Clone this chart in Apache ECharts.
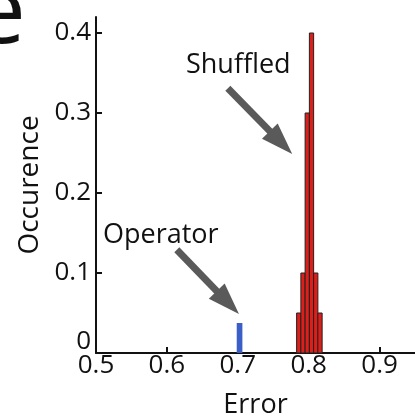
<!DOCTYPE html>
<html>
<head>
<meta charset="utf-8">
<script src="https://cdn.jsdelivr.net/npm/echarts@6/dist/echarts.min.js"></script>
<style>
  html, body { margin: 0; padding: 0; background: #fff; }
  #chart { width: 415px; height: 419px; }
</style>
</head>
<body>
<div id="chart"></div>
<script>
// 直方图数据: [起点, 终点, 频率]
var shuffledBins = [
    [0.783, 0.789, 0.05],
    [0.789, 0.795, 0.10],
    [0.795, 0.801, 0.30],
    [0.801, 0.807, 0.40],
    [0.807, 0.813, 0.10],
    [0.813, 0.819, 0.05]
];
var operatorBins = [
    [0.6985, 0.7065, 0.0375]
];
var xTicks = [0.5, 0.6, 0.7, 0.8, 0.9];
var yTicks = [0, 0.1, 0.2, 0.3, 0.4];

var font = '"Open Sans", "Noto Sans", sans-serif';

// 画矩形柱
var renderBin = function(color, stroke){
    return function(params, api){
        var p0 = api.coord([api.value(0), api.value(2)]);
        var p1 = api.coord([api.value(1), 0]);
        return {
            type: 'rect',
            shape: { x: p0[0], y: p0[1], width: p1[0] - p0[0], height: p1[1] - p0[1] },
            style: { fill: color, stroke: stroke, lineWidth: 1 }
        };
    };
};

var chart = echarts.init(document.getElementById('chart'));
var option = {
    animation: false,
    grid: { left: 96, right: 0, top: 17, bottom: 66, containLabel: false, outerBoundsMode: 'none' },
    xAxis: {
        type: 'value',
        min: 0.5, max: 0.95, interval: 0.1,
        name: 'Error', nameLocation: 'middle', nameGap: 39,
        nameTextStyle: { fontFamily: font, fontSize: 27, color: '#111' },
        axisLine: { show: true, lineStyle: { color: '#111', width: 2 } },
        axisTick: { show: true, inside: true, length: 6, lineStyle: { color: '#111', width: 2 } },
        axisLabel: {
            fontFamily: font, fontSize: 26, color: '#111', margin: 0, showMaxLabel: false,
            formatter: function(v){ return xTicks.indexOf(+v.toFixed(1)) >= 0 ? v.toFixed(1) : ''; }
        },
        splitLine: { show: false }
    },
    yAxis: {
        type: 'value',
        min: 0, max: 0.42, interval: 0.1,
        name: 'Occurence', nameLocation: 'middle', nameGap: 50,
        nameTextStyle: { fontFamily: font, fontSize: 28, color: '#111' },
        axisLine: { show: true, lineStyle: { color: '#111', width: 2 } },
        axisTick: { show: true, inside: true, length: 6, lineStyle: { color: '#111', width: 2 } },
        axisLabel: {
            fontFamily: font, fontSize: 26, color: '#111', margin: 5, showMaxLabel: false,
            formatter: function(v){ return v === 0 ? '{z|0}' : v.toFixed(1); },
            rich: { z: { fontFamily: font, fontSize: 26, color: '#111', padding: [0, 0, 22, 0] } }
        },
        splitLine: { show: false }
    },
    graphic: [
        { type: 'text', left: -28, top: -32, style: { text: 'e', font: '96px ' + font, fill: '#111' } },
        { type: 'text', left: 186, top: 52, style: { text: 'Shuffled', font: '27px ' + font, fill: '#111' } },
        { type: 'text', left: 103, top: 222, style: { text: 'Operator', font: '27px ' + font, fill: '#111' } }
    ],
    series: [
        {
            type: 'custom', name: 'Shuffled',
            renderItem: renderBin('#dc1f1a', '#222'),
            encode: { x: [0, 1], y: 2 },
            data: shuffledBins,
            markLine: {
                silent: true, animation: false,
                symbol: ['none', 'triangle'], symbolSize: [22, 32],
                lineStyle: { color: '#5a5a5a', width: 7, type: 'solid' },
                label: { show: false },
                data: [
                    [{ coord: [0.686, 0.331] }, { coord: [0.761, 0.263] }],
                    [{ coord: [0.614, 0.129] }, { coord: [0.686, 0.063] }]
                ]
            }
        },
        {
            type: 'custom', name: 'Operator',
            renderItem: renderBin('#3b5fc6', null),
            encode: { x: [0, 1], y: 2 },
            data: operatorBins
        }
    ]
};
chart.setOption(option);
</script>
</body>
</html>
